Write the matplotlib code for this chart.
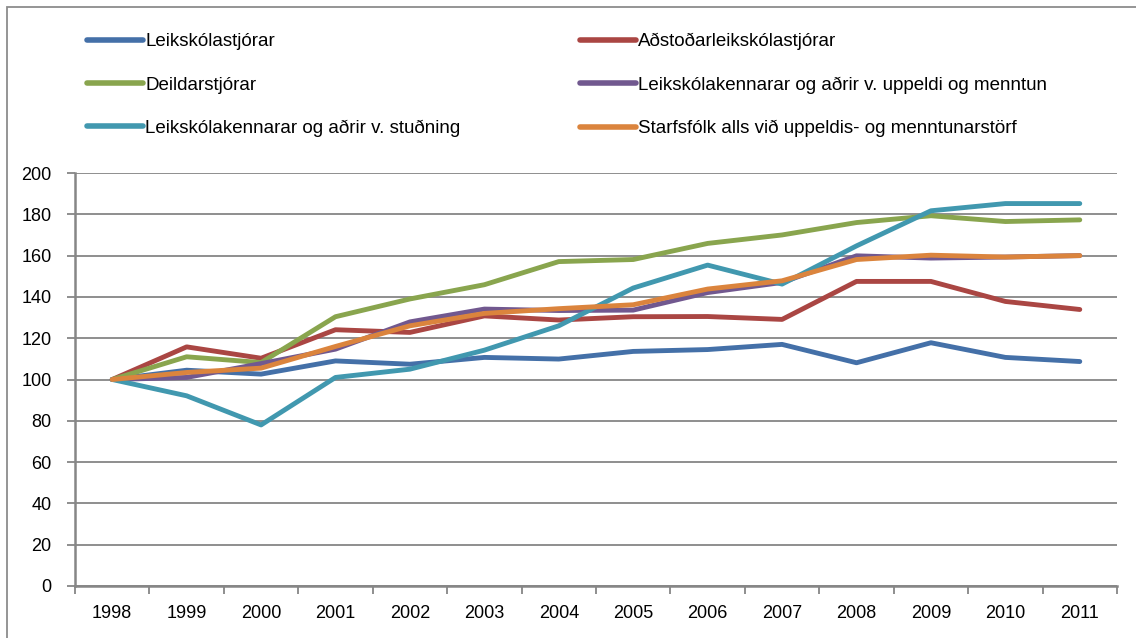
import matplotlib
matplotlib.use('Agg')
import matplotlib.pyplot as plt
from matplotlib.patches import Rectangle
import numpy as np

plt.rcParams['font.family'] = ['Liberation Sans', 'DejaVu Sans']

years = ['1998', '1999', '2000', '2001', '2002', '2003', '2004',
         '2005', '2006', '2007', '2008', '2009', '2010', '2011']

labels = ['Leikskólastjórar',
          'Aðstoðarleikskólastjórar',
          'Deildarstjórar',
          'Leikskólakennarar og aðrir v. uppeldi og menntun',
          'Leikskólakennarar og aðrir v. stuðning',
          'Starfsfólk alls við uppeldis- og menntunarstörf']

leikskolastjorar = [100, 104.5, 102.6, 109, 107.4, 110.7, 109.9, 113.6, 114.5, 117, 108.1, 117.8, 110.7, 108.7]
adstodar = [100, 115.8, 110.3, 124.1, 122.8, 130.8, 128.8, 130.4, 130.5, 129.1, 147.5, 147.5, 137.8, 133.9]
deildarstjorar = [100, 111, 108.2, 130.4, 139, 145.9, 157.1, 158.1, 165.9, 170, 176, 179.3, 176.5, 177.3]
uppeldi = [100, 101, 107.7, 114.7, 127.9, 134.1, 133.4, 133.6, 142.1, 147, 159.9, 158.8, 159.3, 160]
studningur = [100, 92.1, 78, 101, 105, 114.2, 126, 144.3, 155.4, 146.2, 164.7, 181.7, 185.2, 185.2]
starfsfolk = [100, 103.4, 105.5, 116, 126, 132, 134.3, 136.2, 143.8, 147.8, 158.1, 160.2, 159.3, 160]

series = [leikskolastjorar, adstodar, deildarstjorar, uppeldi, studningur, starfsfolk]
colors = ['#4470A8', '#AA4643', '#89A54E', '#71588F', '#4198AF', '#DB843D']

fig = plt.figure(figsize=(11.36, 6.38), dpi=100)
ax = fig.add_axes([75/1136, 1-586/638, (1117-75)/1136, (586-173)/638])

x = np.arange(len(years)) + 0.5
lines = []
for s, c, lab in zip(series, colors, labels):
    ln, = ax.plot(x, s, color=c, lw=3.5, solid_capstyle='round', solid_joinstyle='round', label=lab)
    lines.append(ln)

grid_c = '#868686'
ax.set_xlim(0, len(years))
ax.set_ylim(0, 200)
ax.set_yticks(np.arange(0, 201, 20))
ax.yaxis.grid(True, color=grid_c, lw=1.3)
ax.set_axisbelow(True)
ax.set_xticks(np.arange(len(years)+1))
ax.set_xticklabels([])
ax.set_xticks(x, minor=True)
ax.set_xticklabels(years, minor=True)
ax.tick_params(axis='x', which='minor', length=0, pad=14, labelsize=13)
ax.tick_params(axis='x', which='major', length=6, width=1.3, color=grid_c)
ax.tick_params(axis='y', length=6, width=1.3, color=grid_c, pad=11, labelsize=13)
for sp in ['top', 'right']:
    ax.spines[sp].set_visible(False)
for sp in ['left', 'bottom']:
    ax.spines[sp].set_color(grid_c)
    ax.spines[sp].set_linewidth(1.8)

# outer chart border
fig.patches.append(Rectangle((7/1136, -0.01), 1.02, 1-7/638+0.01, transform=fig.transFigure,
                             fill=False, edgecolor='#8c8c8c', lw=1.3))

leg_kw = dict(loc='upper left', frameon=False, fontsize=13.5, handlelength=3.0,
              handletextpad=0.1, labelspacing=1.4, borderaxespad=0, borderpad=0)
leg1 = fig.legend([lines[0], lines[2], lines[4]], [labels[0], labels[2], labels[4]],
                  bbox_to_anchor=(87/1136, 1-33/638), **leg_kw)
leg2 = fig.legend([lines[1], lines[3], lines[5]], [labels[1], labels[3], labels[5]],
                  bbox_to_anchor=(580/1136, 1-33/638), **leg_kw)
for leg in (leg1, leg2):
    for h in leg.legend_handles:
        h.set_linewidth(4)

fig.savefig('out.png', dpi=100)
